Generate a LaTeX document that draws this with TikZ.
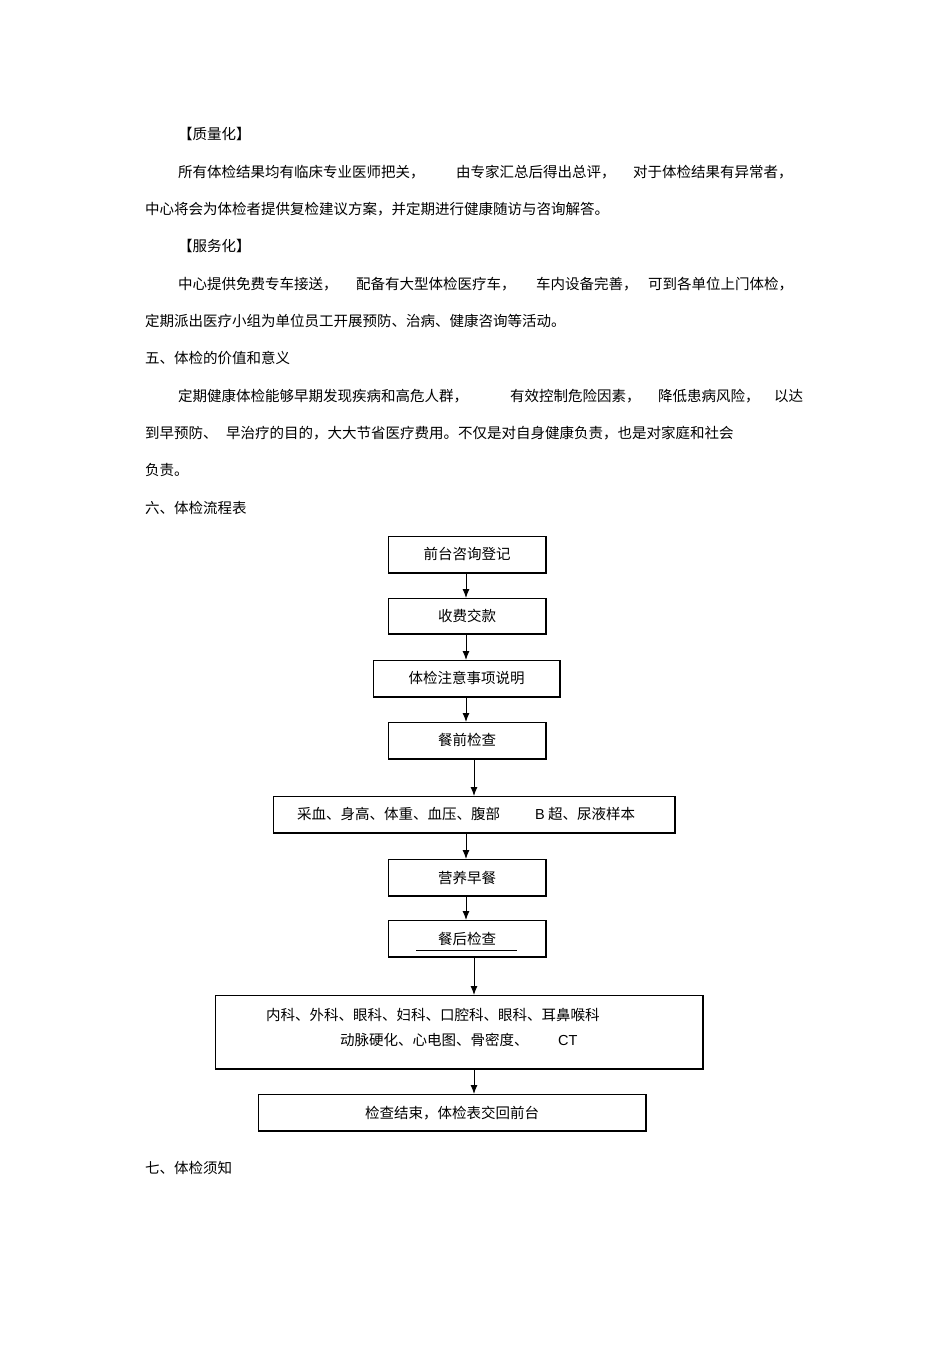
\documentclass[tikz,border=0pt]{standalone}
\usepackage{fontspec}
\setmainfont{Noto Sans CJK SC}
\setsansfont{Liberation Sans}
\usetikzlibrary{arrows.meta}
\begin{document}
\begin{tikzpicture}[x=1pt,y=-1pt,
  txt/.style={anchor=west,inner sep=0pt,font=\fontsize{14.5}{16}\selectfont},
  fbox/.style={draw,line width=0.8pt},
  arr/.style={-{Latex[length=9pt,width=7pt]},line width=1pt}]
\useasboundingbox[fill=white] (0,0) rectangle (950,1345);
\node[txt] (a1) at (178,134) {【质量化】};
\node[txt] (a2) at (178,172) {所有体检结果均有临床专业医师把关，};
\node[txt] (a3) at (456,172) {由专家汇总后得出总评，};
\node[txt] (a4) at (633,172) {对于体检结果有异常者，};
\node[txt] (a5) at (145,209) {中心将会为体检者提供复检建议方案，并定期进行健康随访与咨询解答。};
\node[txt] (b1) at (178,246) {【服务化】};
\node[txt] (b2) at (178,284) {中心提供免费专车接送，};
\node[txt] (b3) at (356,284) {配备有大型体检医疗车，};
\node[txt] (b4) at (536,284) {车内设备完善，};
\node[txt] (b5) at (648,284) {可到各单位上门体检，};
\node[txt] (b6) at (145,321) {定期派出医疗小组为单位员工开展预防、治病、健康咨询等活动。};
\node[txt] (c1) at (145,358) {五、体检的价值和意义};
\node[txt] (c2) at (178,396) {定期健康体检能够早期发现疾病和高危人群，};
\node[txt] (c3) at (510,396) {有效控制危险因素，};
\node[txt] (c4) at (658,396) {降低患病风险，};
\node[txt] (c5) at (774,396) {以达};
\node[txt] (c6) at (145,433) {到早预防、};
\node[txt] (c7) at (226,433) {早治疗的目的，大大节省医疗费用。不仅是对自身健康负责，也是对家庭和社会};
\node[txt] (c8) at (145,470) {负责。};
\node[txt] (d1) at (145,508) {六、体检流程表};
\node[txt] (e1) at (145,1168) {七、体检须知};
% boxes
\foreach \n/\xa/\ya/\xb/\yb in {k1/388/536/546/573, k2/388/598/546/634, k3/373/660/560/697, k4/388/722/546/759, k5/273/796/675/833, k6/388/859/546/896, k7/388/920/546/957, k8/215/995/703/1069, k9/258/1094/646/1131}{
  \draw[fbox] (\xa,\ya) rectangle (\xb,\yb);
  \draw[line width=1.4pt] (\xa+1,\yb-0.5) -- (\xb-0.5,\yb-0.5) -- (\xb-0.5,\ya+1);
  \coordinate (\n t) at ({(\xa+\xb)/2},\ya);
}
\node[txt,anchor=center] (l1) at (k1t |- 0,554) {前台咨询登记};
\node[txt,anchor=center] (l2) at (k2t |- 0,616) {收费交款};
\node[txt,anchor=center] (l3) at (k3t |- 0,678) {体检注意事项说明};
\node[txt,anchor=center] (l4) at (k4t |- 0,740) {餐前检查};
\node[txt] (l5) at (297,814) {采血、身高、体重、血压、腹部};
\node[txt] (l5b) at (535,814) {{\sffamily B} 超、尿液样本};
\node[txt,anchor=center] (l6) at (k6t |- 0,878) {营养早餐};
\node[txt,anchor=center] (l7) at (k7t |- 0,939) {餐后检查};
\draw[line width=0.6pt] (416,950) -- (517,950);
\node[txt] (l8) at (266,1015) {内科、外科、眼科、妇科、口腔科、眼科、耳鼻喉科};
\node[txt] (l8b) at (340,1040) {动脉硬化、心电图、骨密度、};
\node[txt] (l8c) at (558,1040) {\sffamily CT};
\node[txt,anchor=center] (l9) at (452,1113) {检查结束，体检表交回前台};
% arrows
\coordinate (p1) at (466,573); \coordinate (q1) at (466,598);
\coordinate (p2) at (466,634); \coordinate (q2) at (466,660);
\coordinate (p3) at (466,697); \coordinate (q3) at (466,722);
\coordinate (p4) at (474,759); \coordinate (q4) at (474,796);
\coordinate (p5) at (466,833); \coordinate (q5) at (466,859);
\coordinate (p6) at (466,896); \coordinate (q6) at (466,920);
\coordinate (p7) at (474,957); \coordinate (q7) at (474,995);
\coordinate (p8) at (474,1069); \coordinate (q8) at (474,1094);
\foreach \i in {1,...,8}{\draw[arr] (p\i) -- (q\i);}
\end{tikzpicture}
\end{document}
